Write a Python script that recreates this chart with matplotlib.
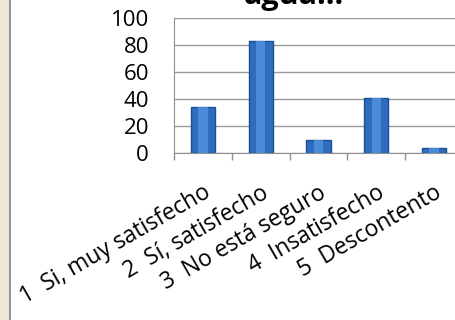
import matplotlib.pyplot as plt
from matplotlib.patches import Rectangle
from matplotlib.lines import Line2D

# survey answers and counts
categories = ['1  Si, muy satisfecho', '2  Sí, satisfecho', '3  No está seguro',
              '4  Insatisfecho', '5  Descontento']
values = [34, 83, 10, 41, 4]
yticks = [0, 20, 40, 60, 80, 100]

plt.rcParams['font.family'] = ['Open Sans', 'DejaVu Sans']

W, H = 456, 320
fig = plt.figure(figsize=(W / 100, H / 100), dpi=100)

# grey window strip on the left
fig.patches.append(Rectangle((0, 0), 9 / W, 1, transform=fig.transFigure,
                             facecolor='#ece9d8', edgecolor='none', zorder=0))
fig.lines.append(Line2D([10 / W, 10 / W], [0, 1], transform=fig.transFigure,
                        color='#808080', lw=1.2))

# axes box: left at x=174, top y=18, bottom y=153, right edge beyond picture
ax = fig.add_axes([174 / W, 1 - 153 / H, (463 - 174) / W, (153 - 18) / H])
x = list(range(len(values)))
ax.bar(x, values, width=0.42, color='#2f6cc0', edgecolor='#1d4f93', lw=1.0, zorder=3)
# lighter centre stripe to hint at the shaded bars
ax.bar(x, values, width=0.16, color='#4a8ad8', lw=0, zorder=4)

ax.set_xlim(-0.5, len(values) - 0.5)
ax.set_ylim(0, 100)
ax.set_yticks(yticks)
ax.tick_params(axis='y', length=0, labelsize=16, pad=18)
ax.yaxis.grid(True, color='#9a9a9a', lw=1.0, zorder=0)
ax.set_axisbelow(True)

# category boundary tick marks
ax.set_xticks([i - 0.5 for i in range(len(values) + 1)], minor=True)
ax.tick_params(axis='x', which='minor', length=5, color='#909090', width=1.0)
ax.set_xticks(x)
ax.set_xticklabels(categories, rotation=30, ha='right', va='top',
                   rotation_mode='anchor', fontsize=16.5)
ax.tick_params(axis='x', which='major', length=0, pad=20)

for s in ['top', 'right']:
    ax.spines[s].set_visible(False)
for s in ['left', 'bottom']:
    ax.spines[s].set_color('#909090')

# title, mostly cut off at the top of the picture
fig.text(294 / W, 1 - 4 / H, 'agua...', ha='center', va='baseline',
         fontsize=22, fontweight='bold')

fig.savefig('out.png', dpi=100)
